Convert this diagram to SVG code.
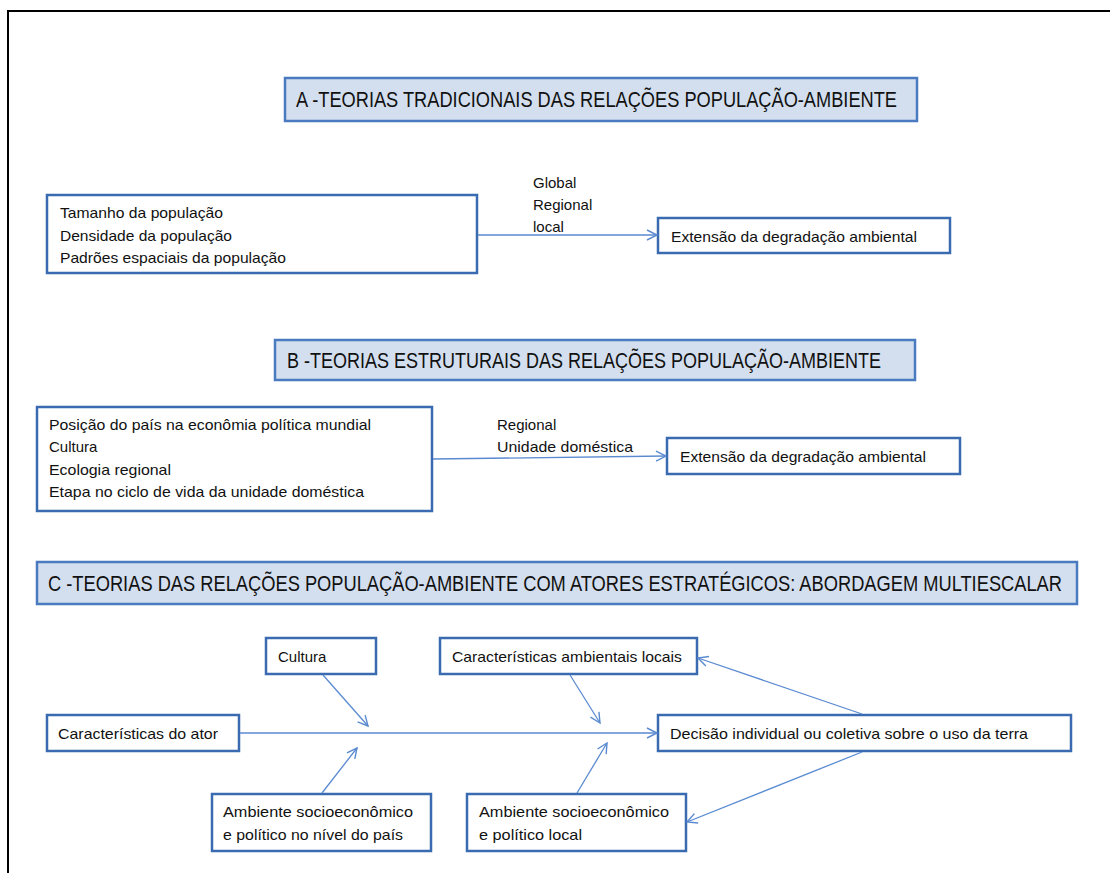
<svg xmlns="http://www.w3.org/2000/svg" width="1110" height="873" viewBox="0 0 1110 873">
<style>
.frame{fill:#fff;stroke:#000;stroke-width:2}
.title{fill:#d3dfee;stroke:#4a7abf;stroke-width:2.5}
.box{fill:#fff;stroke:#3a6bb0;stroke-width:2.5}
.tt{font-family:"Liberation Sans",Arial,sans-serif;font-size:22px;fill:#111}
.t{font-family:"Liberation Sans",Arial,sans-serif;font-size:15px;fill:#111}
.c{stroke:#5a8ad0;stroke-width:1.3;fill:none}
</style>
<defs>
<marker id="ah" markerUnits="userSpaceOnUse" markerWidth="14" markerHeight="14" refX="11" refY="6" orient="auto">
<path d="M1,1 L11,6 L1,11" fill="none" stroke="#5a8ad0" stroke-width="1.4"/>
</marker>
</defs>
<rect x="0" y="0" width="1110" height="873" fill="#fff"/>
<rect class="frame" x="8" y="11" width="1120" height="880"/>

<g id="titleA">
<rect class="title" x="285" y="78" width="632" height="43"/>
<text class="tt" x="296" y="107" textLength="601" lengthAdjust="spacingAndGlyphs">A -TEORIAS TRADICIONAIS DAS RELAÇÕES POPULAÇÃO-AMBIENTE</text>
</g>
<g id="boxA1">
<rect class="box" x="47" y="195" width="430" height="78"/>
<text class="t" x="60" y="218" textLength="163" lengthAdjust="spacingAndGlyphs">Tamanho da população</text>
<text class="t" x="60" y="241" textLength="172" lengthAdjust="spacingAndGlyphs">Densidade da população</text>
<text class="t" x="60" y="263" textLength="226" lengthAdjust="spacingAndGlyphs">Padrões espaciais da  população</text>
</g>
<g id="labelsA">
<text class="t" x="533" y="188">Global</text>
<text class="t" x="533" y="210">Regional</text>
<text class="t" x="533" y="232">local</text>
</g>
<g id="boxA2">
<rect class="box" x="658" y="218" width="292" height="35"/>
<text class="t" x="671" y="242" textLength="246" lengthAdjust="spacingAndGlyphs">Extensão da degradação ambiental</text>
</g>

<g id="titleB">
<rect class="title" x="275" y="340" width="640" height="40"/>
<text class="tt" x="287" y="368" textLength="594" lengthAdjust="spacingAndGlyphs">B -TEORIAS ESTRUTURAIS DAS RELAÇÕES POPULAÇÃO-AMBIENTE</text>
</g>
<g id="boxB1">
<rect class="box" x="37" y="407" width="395" height="104"/>
<text class="t" x="49" y="430" textLength="322" lengthAdjust="spacingAndGlyphs">Posição do país na econômia política mundial</text>
<text class="t" x="49" y="452">Cultura</text>
<text class="t" x="49" y="475" textLength="122" lengthAdjust="spacingAndGlyphs">Ecologia regional</text>
<text class="t" x="49" y="497" textLength="315" lengthAdjust="spacingAndGlyphs">Etapa no ciclo de vida da unidade  doméstica</text>
</g>
<g id="labelsB">
<text class="t" x="497" y="430">Regional</text>
<text class="t" x="497" y="452" textLength="136" lengthAdjust="spacingAndGlyphs">Unidade doméstica</text>
</g>
<g id="boxB2">
<rect class="box" x="667" y="438" width="293" height="36"/>
<text class="t" x="680" y="462" textLength="246" lengthAdjust="spacingAndGlyphs">Extensão da degradação ambiental</text>
</g>

<g id="titleC">
<rect class="title" x="37" y="562" width="1040" height="42"/>
<text class="tt" x="48" y="591" textLength="1014" lengthAdjust="spacingAndGlyphs">C -TEORIAS  DAS RELAÇÕES POPULAÇÃO-AMBIENTE  COM ATORES ESTRATÉGICOS: ABORDAGEM MULTIESCALAR</text>
</g>
<g id="cultura">
<rect class="box" x="266" y="638" width="110" height="36"/>
<text class="t" x="278" y="662">Cultura</text>
</g>
<g id="ator">
<rect class="box" x="47" y="715" width="192" height="36"/>
<text class="t" x="58" y="739" textLength="160" lengthAdjust="spacingAndGlyphs">Características do ator</text>
</g>
<g id="ambLocais">
<rect class="box" x="440" y="638" width="257" height="36"/>
<text class="t" x="452" y="662" textLength="230" lengthAdjust="spacingAndGlyphs">Características ambientais locais</text>
</g>
<g id="decisao">
<rect class="box" x="658" y="715" width="413" height="36"/>
<text class="t" x="670" y="739" textLength="358" lengthAdjust="spacingAndGlyphs">Decisão individual  ou coletiva sobre o uso da terra</text>
</g>
<g id="ambPais">
<rect class="box" x="212" y="794" width="219" height="57"/>
<text class="t" x="223" y="817" textLength="190" lengthAdjust="spacingAndGlyphs">Ambiente socioeconômico</text>
<text class="t" x="223" y="840" textLength="180" lengthAdjust="spacingAndGlyphs">e político no nível do país</text>
</g>
<g id="ambLocal">
<rect class="box" x="467" y="794" width="219" height="57"/>
<text class="t" x="479" y="817" textLength="190" lengthAdjust="spacingAndGlyphs">Ambiente socioeconômico</text>
<text class="t" x="479" y="840" textLength="103" lengthAdjust="spacingAndGlyphs">e político local</text>
</g>

<g id="connectors">
<line class="c" x1="478" y1="235" x2="657" y2="235" marker-end="url(#ah)"/>
<line class="c" x1="433" y1="459" x2="666" y2="456" marker-end="url(#ah)"/>
<line class="c" x1="240" y1="733" x2="657" y2="733" marker-end="url(#ah)"/>
<line class="c" x1="323" y1="675" x2="368" y2="726" marker-end="url(#ah)"/>
<line class="c" x1="322" y1="793" x2="357" y2="748" marker-end="url(#ah)"/>
<line class="c" x1="570" y1="675" x2="600" y2="723" marker-end="url(#ah)"/>
<line class="c" x1="577" y1="793" x2="607" y2="743" marker-end="url(#ah)"/>
<line class="c" x1="862" y1="714" x2="698" y2="658" marker-end="url(#ah)"/>
<line class="c" x1="862" y1="752" x2="687" y2="822" marker-end="url(#ah)"/>
</g>
</svg>
